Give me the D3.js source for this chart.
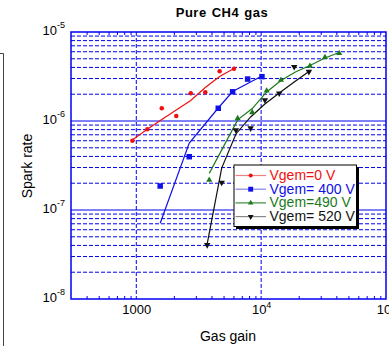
<!DOCTYPE html>
<html>
<head>
<meta charset="utf-8">
<script src="https://cdn.jsdelivr.net/npm/d3@7"></script>
<style>
  html, body { margin: 0; padding: 0; background: #fff; }
  svg { display: block; font-family: "Liberation Sans", Arial, Helvetica, sans-serif; }
</style>
</head>
<body>
<svg id="chart" width="389" height="346"></svg>
<script>
// Spark rate vs gas gain in pure CH4, one series per GEM voltage.
const seriesNames = ["Vgem=0 V", "Vgem= 400 V", "Vgem=490 V", "Vgem= 520 V"];
const seriesColors = ["#f01010", "#1010e8", "#1a7a1a", "#111111"];

// Measured points
const gain0   = [930, 1225, 1600, 2090, 2730, 3570, 4650, 6060];
const rate0   = [6.0e-7, 8.1e-7, 1.39e-6, 1.14e-6, 2.05e-6, 2.1e-6, 3.62e-6, 3.87e-6];
const gain400 = [1554, 2656, 4534, 5910, 7796, 10150];
const rate400 = [1.86e-7, 3.97e-7, 1.39e-6, 2.13e-6, 2.96e-6, 3.15e-6];
const gain490 = [3840, 6484, 8488, 11070, 14410, 24590, 32430, 42200];
const rate490 = [2.17e-7, 1.07e-6, 1.25e-6, 2.19e-6, 2.89e-6, 4.15e-6, 5.2e-6, 5.77e-6];
const gain520 = [3700, 4830, 6280, 8240, 10720, 13960, 18400, 24130];
const rate520 = [4.05e-8, 2.03e-7, 7.9e-7, 8.3e-7, 1.72e-6, 2.05e-6, 4.07e-6, 3.58e-6];

// Fitted curves
const fitGain0   = [930, 1225, 1600, 2090, 2730, 3570, 4650, 6060];
const fitRate0   = [6.1e-7, 8.1e-7, 1.04e-6, 1.33e-6, 1.70e-6, 2.38e-6, 3.16e-6, 3.89e-6];
const fitGain400 = [1554, 2656, 4534, 5910, 7796, 10150];
const fitRate400 = [7.1e-8, 5.66e-7, 1.40e-6, 2.14e-6, 2.64e-6, 3.21e-6];
const fitGain490 = [3840, 6484, 8488, 11070, 14410, 18810, 24590, 32430, 42200];
const fitRate490 = [2.58e-7, 1.03e-6, 1.38e-6, 2.12e-6, 2.85e-6, 3.56e-6, 4.21e-6, 5.11e-6, 5.89e-6];
const fitGain520 = [3700, 4830, 6280, 8240, 10720, 13960, 18400, 24130];
const fitRate520 = [4.2e-8, 2.96e-7, 7.15e-7, 1.11e-6, 1.55e-6, 2.06e-6, 2.74e-6, 3.6e-6];

// Axis ticks
const xMajorTicks = [1000, 1e4, 1e5];
const xTickText = [["1000", ""], ["10", "4"], ["10", "5"]];
const yMajorTicks = [1e-5, 1e-6, 1e-7, 1e-8];
const yTickText = [["10", "-5"], ["10", "-6"], ["10", "-7"], ["10", "-8"]];

const title = "Pure CH4 gas";
const xTitle = "Gas gain";
const yTitle = "Spark rate";

const svg = d3.select("#chart");
const L = 71, R = 386, T = 32, B = 299;
const x = d3.scaleLog().domain([300, 1e5]).range([L, R]);
const y = d3.scaleLog().domain([1e-8, 1e-5]).range([B, T]);
const axisBlue = "#0000f0";

// frame edge of the neighbouring panel on the left
svg.append("path").attr("d", "M0,53.5H3.5V346")
  .attr("fill", "none").attr("stroke", "#444").attr("stroke-width", 1);

// minor ticks values
const xMinor = [];
[100, 1000, 10000].forEach(d => { for (let k = 2; k <= 9; k++) { const v = d * k; if (v > 300 && v < 1e5) xMinor.push(v); } });
const yMinor = [];
[1e-8, 1e-7, 1e-6].forEach(d => { for (let k = 2; k <= 9; k++) yMinor.push(d * k); });

const grid = svg.append("g");
// horizontal grid
grid.selectAll("line.hmin").data(yMinor).join("line")
  .attr("x1", L).attr("x2", R).attr("y1", d => y(d)).attr("y2", d => y(d))
  .attr("stroke", axisBlue).attr("stroke-width", 1).attr("stroke-dasharray", "4,2");
grid.selectAll("line.hmaj").data([1e-6, 1e-7]).join("line")
  .attr("x1", L).attr("x2", R).attr("y1", d => y(d)).attr("y2", d => y(d))
  .attr("stroke", axisBlue).attr("stroke-width", 1);
// vertical grid
grid.selectAll("line.v").data([1000, 1e4]).join("line")
  .attr("x1", d => x(d)).attr("x2", d => x(d)).attr("y1", T).attr("y2", B)
  .attr("stroke", axisBlue).attr("stroke-width", 1).attr("stroke-dasharray", "4,2");

// axes with inward minor ticks
function styleAxis(g) {
  g.select(".domain").remove();
  g.selectAll(".tick line").attr("stroke", axisBlue);
}
svg.append("g").attr("transform", `translate(0,${B})`)
  .call(d3.axisTop(x).tickValues(xMinor).tickSize(3).tickFormat(""))
  .call(styleAxis);
svg.append("g").attr("transform", `translate(0,${T})`)
  .call(d3.axisBottom(x).tickValues(xMinor).tickSize(3).tickFormat(""))
  .call(styleAxis);

// x tick labels
const xAxis = svg.append("g").attr("transform", `translate(0,${B})`)
  .call(d3.axisBottom(x).tickValues(xMajorTicks).tickSize(0).tickPadding(0).tickFormat(""))
  .call(g => g.select(".domain").remove());
xAxis.selectAll(".tick text").each(function (d, i) {
  const t = d3.select(this).attr("y", 14.5).attr("dy", null)
    .attr("font-size", 13).attr("fill", "#000")
    .attr("font-family", "Liberation Sans, Arial, sans-serif");
  t.append("tspan").text(xTickText[i][0]);
  if (xTickText[i][1]) t.append("tspan").attr("dy", -6).attr("font-size", 9).text(xTickText[i][1]);
});

// y tick labels
const yAxis = svg.append("g").attr("transform", `translate(${L},0)`)
  .call(d3.axisLeft(y).tickValues(yMajorTicks).tickSize(0).tickPadding(0).tickFormat(""))
  .call(g => g.select(".domain").remove());
yAxis.selectAll(".tick text").each(function (d, i) {
  const t = d3.select(this).attr("x", -6).attr("dy", null).attr("y", 2.5)
    .attr("font-size", 13).attr("fill", "#000").attr("text-anchor", "end")
    .attr("font-family", "Liberation Sans, Arial, sans-serif");
  t.append("tspan").text(yTickText[i][0]);
  t.append("tspan").attr("dy", -7).attr("font-size", 9).text(yTickText[i][1]);
});

// plot frame
svg.append("rect").attr("x", L).attr("y", T).attr("width", R - L).attr("height", B - T)
  .attr("fill", "none").attr("stroke", axisBlue).attr("stroke-width", 1.5);

// series
const symDown = { draw(ctx, size) { d3.symbolTriangle.draw(ctx, size); } };
const shapes = [
  { type: d3.symbolCircle, size: 16, rot: 0 },
  { type: d3.symbolSquare, size: 30, rot: 0 },
  { type: d3.symbolTriangle, size: 16, rot: 0 },
  { type: d3.symbolTriangle, size: 18, rot: 180 }
];
const pts = [[gain0, rate0], [gain400, rate400], [gain490, rate490], [gain520, rate520]];
const fits = [[fitGain0, fitRate0], [fitGain400, fitRate400], [fitGain490, fitRate490], [fitGain520, fitRate520]];
const line = d3.line().x(d => x(d[0])).y(d => y(d[1]));

const plot = svg.append("g");
fits.forEach((f, i) => {
  plot.append("path").datum(d3.zip(f[0], f[1]))
    .attr("d", line).attr("fill", "none")
    .attr("stroke", seriesColors[i]).attr("stroke-width", 1.2);
});
pts.forEach((p, i) => {
  const s = shapes[i];
  plot.selectAll(null).data(d3.zip(p[0], p[1])).join("path")
    .attr("transform", d => `translate(${x(d[0])},${y(d[1])}) rotate(${s.rot})`)
    .attr("d", d3.symbol(s.type, s.size)())
    .attr("fill", seriesColors[i]);
});

// legend
const lg = svg.append("g").attr("transform", "translate(234,165)");
lg.append("rect").attr("x", 2).attr("y", 2).attr("width", 123).attr("height", 62).attr("fill", "#000");
lg.append("rect").attr("x", 0).attr("y", 0).attr("width", 122.5).attr("height", 61.5)
  .attr("fill", "#fff").attr("stroke", "#000").attr("stroke-width", 1);
const legendLine = ["#f08080", "#8080f0", "#3a8a3a", "#888"];
seriesNames.forEach((name, i) => {
  const yy = 10.5 + i * 13.7;
  lg.append("line").attr("x1", 1.5).attr("x2", 32).attr("y1", yy).attr("y2", yy)
    .attr("stroke", legendLine[i]).attr("stroke-width", 1.2);
  const s = shapes[i];
  lg.append("path").attr("transform", `translate(16.7,${yy}) rotate(${s.rot})`)
    .attr("d", d3.symbol(s.type, s.size * 0.8)()).attr("fill", seriesColors[i]);
  lg.append("text").attr("x", 35.5).attr("y", yy + 4.5).attr("font-size", 14)
    .attr("fill", seriesColors[i]).text(name);
});

// titles
svg.append("text").attr("x", 222).attr("y", 17).attr("text-anchor", "middle")
  .attr("font-size", 13).attr("font-weight", "bold").attr("letter-spacing", 0.5)
  .attr("word-spacing", 1).text(title);
svg.append("text").attr("x", 228).attr("y", 341).attr("text-anchor", "middle")
  .attr("font-size", 14).text(xTitle);
svg.append("text").attr("transform", "translate(32,166) rotate(-90)").attr("text-anchor", "middle")
  .attr("font-size", 14).text(yTitle);
</script>
</body>
</html>
